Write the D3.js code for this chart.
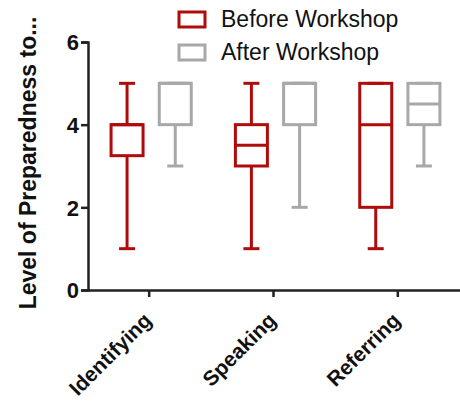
<!DOCTYPE html>
<html>
<head>
<meta charset="utf-8">
<script src="https://cdn.jsdelivr.net/npm/d3@7"></script>
<style>
  body { margin: 0; background: #fff; }
  text { font-family: "Liberation Sans", Arial, sans-serif; }
</style>
</head>
<body>
<script>
let categories = ['Identifying', 'Speaking', 'Referring'];
let groups = ['Before Workshop', 'After Workshop'];
// [min, q1, median, q3, max]
let beforeStats = [[1, 3.25, 4, 4, 5], [1, 3, 3.5, 4, 5], [1, 2, 4, 5, 5]];
let afterStats = [[3, 4, 5, 5, 5], [2, 4, 5, 5, 5], [3, 4, 4.5, 5, 5]];
let yTicks = [0, 2, 4, 6];
let colors = ['#b00b0b', '#a8a8a8'];

let width = 460;
let height = 404;

let svg = d3.select('body')
    .append('svg')
    .attr('width', width)
    .attr('height', height);

let x = d3.scaleBand()
    .domain(categories)
    .range([87, 460]);

let sub = d3.scaleBand()
    .domain(groups)
    .range([-45, 49])
    .paddingInner(0.05);

let y = d3.scaleLinear()
    .domain([0, 6])
    .range([290, 42]);

let fontFam = '"Liberation Sans", Arial, sans-serif';

// y axis
let yAxis = svg.append('g')
    .attr('transform', 'translate(88,0)')
    .call(d3.axisLeft(y).tickValues(yTicks).tickFormat(d3.format('d')).tickSize(7).tickPadding(2));
yAxis.select('.domain').attr('stroke', '#222').attr('stroke-width', 2.5);
yAxis.selectAll('.tick line').attr('stroke', '#222').attr('stroke-width', 2.5);
yAxis.selectAll('.tick text')
    .attr('font-size', 22).attr('font-weight', 'bold').attr('fill', '#111')
    .attr('font-family', fontFam)
    .attr('dy', '0.36em');

// x axis
let xAxis = svg.append('g')
    .attr('transform', 'translate(0,290)')
    .call(d3.axisBottom(x).tickSize(7).tickSizeOuter(0).tickPadding(4));
xAxis.select('.domain').attr('stroke', '#222').attr('stroke-width', 2.5);
xAxis.selectAll('.tick line').attr('stroke', '#222').attr('stroke-width', 2.5);
xAxis.selectAll('.tick text')
    .attr('font-size', 21).attr('font-weight', 'bold').attr('fill', '#111')
    .attr('font-family', fontFam)
    .attr('text-anchor', 'end')
    .attr('dy', 0)
    .attr('transform', 'translate(-4,24) rotate(-45)');

// boxes
let allStats = [beforeStats, afterStats];
groups.forEach((g, gi) => {
    let layer = svg.append('g')
        .attr('fill', 'none')
        .attr('stroke', colors[gi])
        .attr('stroke-width', 3);
    categories.forEach((c, ci) => {
        let s = allStats[gi][ci];
        let cx = x(c) + x.bandwidth() / 2 + sub(g) + sub.bandwidth() / 2;
        let bw = 32;
        let cap = 16;
        let bx = layer.append('g');
        // whiskers
        bx.append('line')
            .attr('x1', cx).attr('x2', cx)
            .attr('y1', y(s[0])).attr('y2', y(s[1]));
        bx.append('line')
            .attr('x1', cx).attr('x2', cx)
            .attr('y1', y(s[3])).attr('y2', y(s[4]));
        bx.append('line')
            .attr('x1', cx - cap / 2).attr('x2', cx + cap / 2)
            .attr('y1', y(s[0])).attr('y2', y(s[0]));
        bx.append('line')
            .attr('x1', cx - cap / 2).attr('x2', cx + cap / 2)
            .attr('y1', y(s[4])).attr('y2', y(s[4]));
        // box
        bx.append('rect')
            .attr('x', cx - bw / 2)
            .attr('y', y(s[3]))
            .attr('width', bw)
            .attr('height', y(s[1]) - y(s[3]));
        // median
        bx.append('line')
            .attr('x1', cx - bw / 2).attr('x2', cx + bw / 2)
            .attr('y1', y(s[2])).attr('y2', y(s[2]));
    });
});

// y title
svg.append('text')
    .attr('transform', 'translate(36,163) rotate(-90)')
    .attr('text-anchor', 'middle')
    .attr('font-size', 23)
    .attr('font-weight', 'bold')
    .attr('fill', '#111')
    .text('Level of Preparedness to...');

// legend
let legend = svg.append('g');
groups.forEach((g, i) => {
    let ly = 12 + i * 33;
    legend.append('rect')
        .attr('x', 179).attr('y', ly)
        .attr('width', 26).attr('height', 15)
        .attr('fill', 'none')
        .attr('stroke', colors[i])
        .attr('stroke-width', 3);
    legend.append('text')
        .attr('x', 221).attr('y', ly + 15)
        .attr('font-size', 23)
        .attr('fill', '#111')
        .text(g);
});
</script>
</body>
</html>
